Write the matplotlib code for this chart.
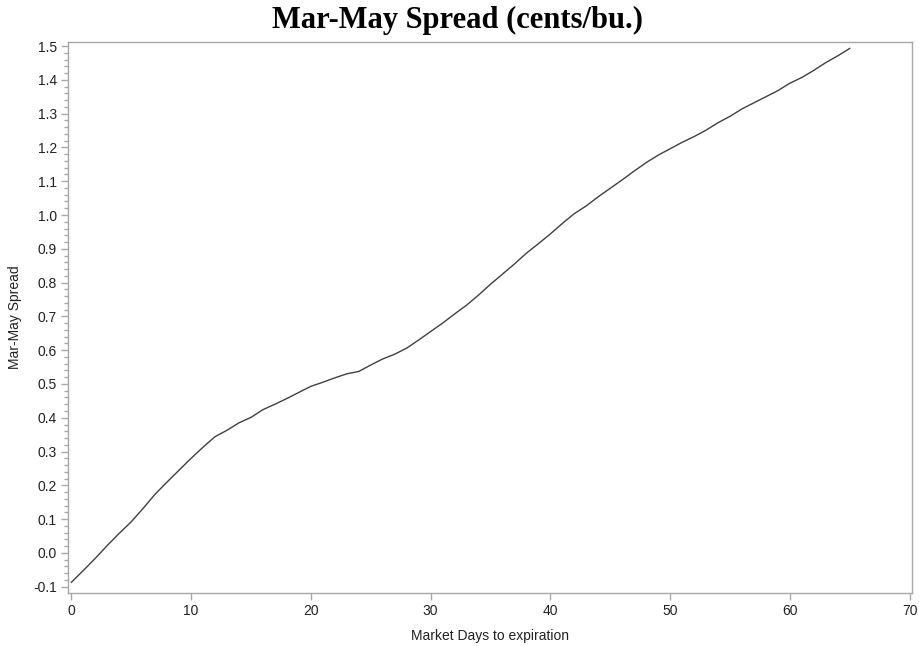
import numpy as np
import matplotlib
matplotlib.use("Agg")
import matplotlib.pyplot as plt
from matplotlib.ticker import MultipleLocator, FormatStrFormatter

plt.rcParams["font.family"] = ["Liberation Sans", "DejaVu Sans"]

# spread by market days to expiration
days = np.arange(0, 66)
spread = [-0.087, -0.052, -0.016, 0.022, 0.058, 0.092, 0.132, 0.174, 0.210, 0.245,
          0.280, 0.313, 0.344, 0.363, 0.385, 0.401, 0.424, 0.440, 0.457, 0.475,
          0.493, 0.505, 0.518, 0.530, 0.537, 0.556, 0.574, 0.588, 0.606, 0.630,
          0.655, 0.680, 0.707, 0.733, 0.763, 0.795, 0.825, 0.855, 0.887, 0.915,
          0.944, 0.975, 1.004, 1.027, 1.054, 1.079, 1.104, 1.130, 1.155, 1.177,
          1.196, 1.215, 1.232, 1.251, 1.273, 1.292, 1.314, 1.332, 1.350, 1.368,
          1.390, 1.407, 1.428, 1.451, 1.471, 1.493]

fig = plt.figure(figsize=(9.2, 6.46), dpi=100)
ax = fig.add_axes([0.0739, 0.082, 0.9174, 0.853])

ax.plot(days, spread, color="#404040", lw=1.0)

ax.set_xlim(-0.28, 70.2)
ax.set_ylim(-0.1187, 1.512)
ax.xaxis.set_major_locator(MultipleLocator(10))
ax.yaxis.set_major_locator(MultipleLocator(0.1))
ax.yaxis.set_minor_locator(MultipleLocator(0.02))
ax.yaxis.set_major_formatter(FormatStrFormatter("%.1f"))

for s in ax.spines.values():
    s.set_color("#a8a8a8")
    s.set_linewidth(1.0)

ax.tick_params(which="major", length=5, width=1, color="#a8a8a8",
               labelsize=10, labelcolor="#222222", pad=3)
ax.tick_params(which="minor", length=3, width=1, color="#a8a8a8")

ax.set_xlabel("Market Days to expiration", fontsize=10, color="#222222", labelpad=8)
ax.set_ylabel("Mar-May Spread", fontsize=10, color="#222222", labelpad=8)

fig.text(0.497, 0.968, "Mar-May Spread (cents/bu.)", ha="center", va="center",
         family="Liberation Serif", weight="bold", fontsize=22)

fig.savefig("out.png", dpi=100)
